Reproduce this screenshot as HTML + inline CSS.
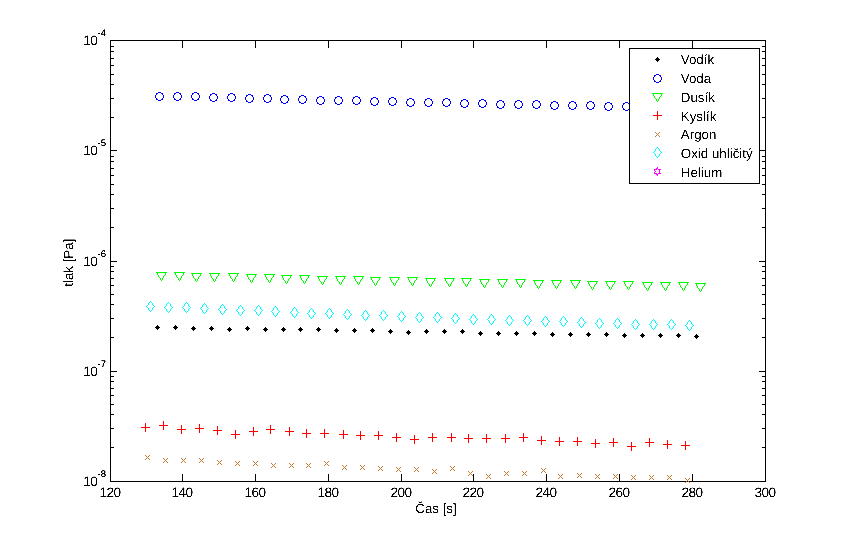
<!DOCTYPE html>
<html lang="cs"><head><meta charset="utf-8"><title>tlak / Čas</title>
<style>html,body{margin:0;padding:0;background:#fff;}svg{display:block;}text{font-family:"Liberation Sans",Arial,Helvetica,sans-serif;fill:#000;text-rendering:geometricPrecision;}.t{font-size:13.33px;}.s{font-size:9.5px;}.n{font-size:13.7px;letter-spacing:-0.6px;}</style></head><body>
<svg width="845" height="541" viewBox="0 0 845 541">
<rect x="0" y="0" width="845" height="541" fill="#fff"/>
<defs>
<g id="mc" shape-rendering="crispEdges" fill="#0000ff"><rect x="-1.5" y="-4.5" width="3" height="1"/><rect x="-1.5" y="3.5" width="3" height="1"/><rect x="-4.5" y="-1.5" width="1" height="3"/><rect x="3.5" y="-1.5" width="1" height="3"/><rect x="-3.5" y="-3.5" width="2" height="1"/><rect x="1.5" y="-3.5" width="2" height="1"/><rect x="-3.5" y="2.5" width="2" height="1"/><rect x="1.5" y="2.5" width="2" height="1"/><rect x="-3.5" y="-2.5" width="1" height="1"/><rect x="2.5" y="-2.5" width="1" height="1"/><rect x="-3.5" y="1.5" width="1" height="1"/><rect x="2.5" y="1.5" width="1" height="1"/></g>
<g id="mt" shape-rendering="crispEdges" fill="#00ff00"><rect x="-5.5" y="-0.5" width="11" height="1"/><rect x="-4.5" y="0.5" width="1" height="1"/><rect x="3.5" y="0.5" width="1" height="1"/><rect x="-4.5" y="1.5" width="1" height="1"/><rect x="3.5" y="1.5" width="1" height="1"/><rect x="-3.5" y="2.5" width="1" height="1"/><rect x="2.5" y="2.5" width="1" height="1"/><rect x="-3.5" y="3.5" width="1" height="1"/><rect x="1.5" y="3.5" width="1" height="1"/><rect x="-2.5" y="4.5" width="1" height="1"/><rect x="1.5" y="4.5" width="1" height="1"/><rect x="-1.5" y="5.5" width="1" height="1"/><rect x="0.5" y="5.5" width="1" height="1"/><rect x="-1.5" y="6.5" width="1" height="1"/><rect x="0.5" y="6.5" width="1" height="1"/><rect x="-0.5" y="7.5" width="1" height="1"/></g>
<g id="md" shape-rendering="crispEdges" fill="#00ffff"><rect x="-0.5" y="-5.5" width="1" height="1"/><rect x="-1.5" y="-4.5" width="1" height="1"/><rect x="0.5" y="-4.5" width="1" height="1"/><rect x="-2.5" y="-3.5" width="1" height="1"/><rect x="1.5" y="-3.5" width="1" height="1"/><rect x="-2.5" y="-2.5" width="1" height="1"/><rect x="1.5" y="-2.5" width="1" height="1"/><rect x="-3.5" y="-1.5" width="1" height="1"/><rect x="2.5" y="-1.5" width="1" height="1"/><rect x="-4.5" y="-0.5" width="1" height="1"/><rect x="3.5" y="-0.5" width="1" height="1"/><rect x="-3.5" y="0.5" width="1" height="1"/><rect x="2.5" y="0.5" width="1" height="1"/><rect x="-2.5" y="1.5" width="1" height="1"/><rect x="1.5" y="1.5" width="1" height="1"/><rect x="-2.5" y="2.5" width="1" height="1"/><rect x="1.5" y="2.5" width="1" height="1"/><rect x="-1.5" y="3.5" width="1" height="1"/><rect x="0.5" y="3.5" width="1" height="1"/><rect x="-0.5" y="4.5" width="1" height="1"/></g>
<g id="mk" shape-rendering="crispEdges" fill="#000"><rect x="-0.5" y="-2.5" width="1" height="5"/><rect x="-1.5" y="-1.5" width="3" height="3"/><rect x="-2.5" y="-0.5" width="5" height="1"/></g>
<g id="mp" shape-rendering="crispEdges" fill="#ff0000"><rect x="-4.5" y="-0.5" width="9" height="1"/><rect x="-0.5" y="-4.5" width="1" height="9"/></g>
<g id="mx" shape-rendering="crispEdges" fill="#c67a2e"><rect x="-2.5" y="-2.5" width="1" height="1"/><rect x="-1.5" y="-1.5" width="1" height="1"/><rect x="-0.5" y="-0.5" width="1" height="1"/><rect x="0.5" y="0.5" width="1" height="1"/><rect x="1.5" y="1.5" width="1" height="1"/><rect x="-2.5" y="1.5" width="1" height="1"/><rect x="-1.5" y="0.5" width="1" height="1"/><rect x="0.5" y="-1.5" width="1" height="1"/><rect x="1.5" y="-2.5" width="1" height="1"/></g>
<g id="mh" shape-rendering="crispEdges" fill="#ff00ff"><rect x="-0.5" y="-4.5" width="1" height="1"/><rect x="-1.5" y="-3.5" width="1" height="1"/><rect x="-0.5" y="-3.5" width="1" height="1"/><rect x="-3.5" y="-2.5" width="1" height="1"/><rect x="-2.5" y="-2.5" width="1" height="1"/><rect x="-1.5" y="-2.5" width="1" height="1"/><rect x="0.5" y="-2.5" width="1" height="1"/><rect x="1.5" y="-2.5" width="1" height="1"/><rect x="2.5" y="-2.5" width="1" height="1"/><rect x="-3.5" y="-1.5" width="1" height="1"/><rect x="1.5" y="-1.5" width="1" height="1"/><rect x="-2.5" y="-0.5" width="1" height="1"/><rect x="1.5" y="-0.5" width="1" height="1"/><rect x="-3.5" y="0.5" width="1" height="1"/><rect x="1.5" y="0.5" width="1" height="1"/><rect x="-3.5" y="1.5" width="1" height="1"/><rect x="-2.5" y="1.5" width="1" height="1"/><rect x="-1.5" y="1.5" width="1" height="1"/><rect x="0.5" y="1.5" width="1" height="1"/><rect x="1.5" y="1.5" width="1" height="1"/><rect x="2.5" y="1.5" width="1" height="1"/><rect x="-1.5" y="2.5" width="1" height="1"/><rect x="-0.5" y="2.5" width="1" height="1"/><rect x="-0.5" y="3.5" width="1" height="1"/></g>
<filter id="th" filterUnits="userSpaceOnUse" x="0" y="0" width="845" height="541" color-interpolation-filters="sRGB"><feComponentTransfer><feFuncA type="table" tableValues="0 0 0 0 0.15 0.5 0.85 1 1 1 1"/></feComponentTransfer></filter>
<filter id="th2" filterUnits="userSpaceOnUse" x="0" y="0" width="845" height="541" color-interpolation-filters="sRGB"><feComponentTransfer><feFuncA type="table" tableValues="0 0 0 0.25 0.6 0.9 1 1 1 1 1"/></feComponentTransfer></filter>
</defs>
<g shape-rendering="crispEdges" stroke="#000" stroke-width="1" fill="none">
<rect x="110.5" y="40.5" width="655.0" height="441.0"/>
<path d="M110.5 481.0v-7 M110.5 41.0v7 M182.5 481.0v-7 M182.5 41.0v7 M255.5 481.0v-7 M255.5 41.0v7 M328.5 481.0v-7 M328.5 41.0v7 M401.5 481.0v-7 M401.5 41.0v7 M473.5 481.0v-7 M473.5 41.0v7 M546.5 481.0v-7 M546.5 41.0v7 M619.5 481.0v-7 M619.5 41.0v7 M692.5 481.0v-7 M692.5 41.0v7 M765.5 481.0v-7 M765.5 41.0v7 M111.0 40.5h6 M765.0 40.5h-6 M111.0 117.5h3 M765.0 117.5h-3 M111.0 98.5h3 M765.0 98.5h-3 M111.0 84.5h3 M765.0 84.5h-3 M111.0 74.5h3 M765.0 74.5h-3 M111.0 65.5h3 M765.0 65.5h-3 M111.0 58.5h3 M765.0 58.5h-3 M111.0 51.5h3 M765.0 51.5h-3 M111.0 46.5h3 M765.0 46.5h-3 M111.0 150.5h6 M765.0 150.5h-6 M111.0 227.5h3 M765.0 227.5h-3 M111.0 208.5h3 M765.0 208.5h-3 M111.0 194.5h3 M765.0 194.5h-3 M111.0 184.5h3 M765.0 184.5h-3 M111.0 175.5h3 M765.0 175.5h-3 M111.0 168.5h3 M765.0 168.5h-3 M111.0 161.5h3 M765.0 161.5h-3 M111.0 156.5h3 M765.0 156.5h-3 M111.0 261.5h6 M765.0 261.5h-6 M111.0 337.5h3 M765.0 337.5h-3 M111.0 318.5h3 M765.0 318.5h-3 M111.0 304.5h3 M765.0 304.5h-3 M111.0 294.5h3 M765.0 294.5h-3 M111.0 285.5h3 M765.0 285.5h-3 M111.0 278.5h3 M765.0 278.5h-3 M111.0 271.5h3 M765.0 271.5h-3 M111.0 266.5h3 M765.0 266.5h-3 M111.0 371.5h6 M765.0 371.5h-6 M111.0 447.5h3 M765.0 447.5h-3 M111.0 428.5h3 M765.0 428.5h-3 M111.0 414.5h3 M765.0 414.5h-3 M111.0 404.5h3 M765.0 404.5h-3 M111.0 395.5h3 M765.0 395.5h-3 M111.0 388.5h3 M765.0 388.5h-3 M111.0 381.5h3 M765.0 381.5h-3 M111.0 376.5h3 M765.0 376.5h-3 M111.0 481.5h6 M765.0 481.5h-6 "/>
</g>
<g><use href="#mk" x="157.5" y="327.5"/><use href="#mk" x="175.5" y="327.5"/><use href="#mk" x="193.5" y="328.5"/><use href="#mk" x="211.5" y="328.5"/><use href="#mk" x="229.5" y="329.5"/><use href="#mk" x="247.5" y="328.5"/><use href="#mk" x="265.5" y="329.5"/><use href="#mk" x="283.5" y="329.5"/><use href="#mk" x="300.5" y="329.5"/><use href="#mk" x="318.5" y="329.5"/><use href="#mk" x="336.5" y="330.5"/><use href="#mk" x="354.5" y="330.5"/><use href="#mk" x="372.5" y="330.5"/><use href="#mk" x="390.5" y="331.5"/><use href="#mk" x="408.5" y="332.5"/><use href="#mk" x="426.5" y="331.5"/><use href="#mk" x="444.5" y="331.5"/><use href="#mk" x="462.5" y="331.5"/><use href="#mk" x="480.5" y="333.5"/><use href="#mk" x="498.5" y="333.5"/><use href="#mk" x="516.5" y="333.5"/><use href="#mk" x="534.5" y="333.5"/><use href="#mk" x="552.5" y="334.5"/><use href="#mk" x="570.5" y="334.5"/><use href="#mk" x="588.5" y="334.5"/><use href="#mk" x="606.5" y="334.5"/><use href="#mk" x="624.5" y="335.5"/><use href="#mk" x="642.5" y="335.5"/><use href="#mk" x="660.5" y="335.5"/><use href="#mk" x="678.5" y="335.5"/><use href="#mk" x="696.5" y="336.5"/></g>
<g><use href="#mc" x="159.5" y="96.5"/><use href="#mc" x="177.5" y="96.5"/><use href="#mc" x="195.5" y="96.5"/><use href="#mc" x="213.5" y="97.5"/><use href="#mc" x="231.5" y="97.5"/><use href="#mc" x="249.5" y="98.5"/><use href="#mc" x="267.5" y="98.5"/><use href="#mc" x="284.5" y="99.5"/><use href="#mc" x="302.5" y="99.5"/><use href="#mc" x="320.5" y="100.5"/><use href="#mc" x="338.5" y="100.5"/><use href="#mc" x="356.5" y="100.5"/><use href="#mc" x="374.5" y="101.5"/><use href="#mc" x="392.5" y="101.5"/><use href="#mc" x="410.5" y="102.5"/><use href="#mc" x="428.5" y="102.5"/><use href="#mc" x="446.5" y="102.5"/><use href="#mc" x="464.5" y="103.5"/><use href="#mc" x="482.5" y="103.5"/><use href="#mc" x="500.5" y="104.5"/><use href="#mc" x="518.5" y="104.5"/><use href="#mc" x="536.5" y="104.5"/><use href="#mc" x="554.5" y="105.5"/><use href="#mc" x="572.5" y="105.5"/><use href="#mc" x="590.5" y="105.5"/><use href="#mc" x="608.5" y="106.5"/><use href="#mc" x="626.5" y="106.5"/></g>
<g><use href="#mt" x="161.5" y="272.5"/><use href="#mt" x="179.5" y="272.5"/><use href="#mt" x="196.5" y="273.5"/><use href="#mt" x="214.5" y="273.5"/><use href="#mt" x="233.5" y="273.5"/><use href="#mt" x="251.5" y="274.5"/><use href="#mt" x="269.5" y="274.5"/><use href="#mt" x="286.5" y="275.5"/><use href="#mt" x="304.5" y="275.5"/><use href="#mt" x="322.5" y="276.5"/><use href="#mt" x="340.5" y="276.5"/><use href="#mt" x="358.5" y="276.5"/><use href="#mt" x="375.5" y="277.5"/><use href="#mt" x="394.5" y="277.5"/><use href="#mt" x="412.5" y="277.5"/><use href="#mt" x="430.5" y="278.5"/><use href="#mt" x="449.5" y="278.5"/><use href="#mt" x="466.5" y="278.5"/><use href="#mt" x="484.5" y="279.5"/><use href="#mt" x="502.5" y="279.5"/><use href="#mt" x="520.5" y="279.5"/><use href="#mt" x="538.5" y="280.5"/><use href="#mt" x="556.5" y="280.5"/><use href="#mt" x="575.5" y="280.5"/><use href="#mt" x="592.5" y="281.5"/><use href="#mt" x="610.5" y="281.5"/><use href="#mt" x="628.5" y="281.5"/><use href="#mt" x="647.5" y="282.5"/><use href="#mt" x="665.5" y="282.5"/><use href="#mt" x="683.5" y="282.5"/><use href="#mt" x="700.5" y="283.5"/></g>
<g><use href="#mp" x="145.5" y="427.5"/><use href="#mp" x="163.5" y="425.5"/><use href="#mp" x="181.5" y="429.5"/><use href="#mp" x="199.5" y="428.5"/><use href="#mp" x="217.5" y="430.5"/><use href="#mp" x="235.5" y="434.5"/><use href="#mp" x="253.5" y="431.5"/><use href="#mp" x="270.5" y="429.5"/><use href="#mp" x="289.5" y="431.5"/><use href="#mp" x="306.5" y="433.5"/><use href="#mp" x="324.5" y="433.5"/><use href="#mp" x="343.5" y="434.5"/><use href="#mp" x="360.5" y="435.5"/><use href="#mp" x="378.5" y="435.5"/><use href="#mp" x="396.5" y="437.5"/><use href="#mp" x="414.5" y="439.5"/><use href="#mp" x="432.5" y="437.5"/><use href="#mp" x="451.5" y="437.5"/><use href="#mp" x="468.5" y="438.5"/><use href="#mp" x="486.5" y="438.5"/><use href="#mp" x="505.5" y="438.5"/><use href="#mp" x="523.5" y="437.5"/><use href="#mp" x="541.5" y="440.5"/><use href="#mp" x="559.5" y="441.5"/><use href="#mp" x="577.5" y="441.5"/><use href="#mp" x="595.5" y="443.5"/><use href="#mp" x="613.5" y="442.5"/><use href="#mp" x="631.5" y="446.5"/><use href="#mp" x="649.5" y="442.5"/><use href="#mp" x="667.5" y="444.5"/><use href="#mp" x="685.5" y="445.5"/></g>
<g><use href="#mx" x="147.5" y="457.5"/><use href="#mx" x="165.5" y="460.5"/><use href="#mx" x="183.5" y="460.5"/><use href="#mx" x="201.5" y="460.5"/><use href="#mx" x="219.5" y="462.5"/><use href="#mx" x="237.5" y="463.5"/><use href="#mx" x="255.5" y="463.5"/><use href="#mx" x="273.5" y="465.5"/><use href="#mx" x="291.5" y="465.5"/><use href="#mx" x="308.5" y="465.5"/><use href="#mx" x="326.5" y="463.5"/><use href="#mx" x="344.5" y="467.5"/><use href="#mx" x="362.5" y="467.5"/><use href="#mx" x="380.5" y="468.5"/><use href="#mx" x="398.5" y="469.5"/><use href="#mx" x="416.5" y="469.5"/><use href="#mx" x="434.5" y="471.5"/><use href="#mx" x="452.5" y="468.5"/><use href="#mx" x="470.5" y="473.5"/><use href="#mx" x="488.5" y="476.5"/><use href="#mx" x="506.5" y="473.5"/><use href="#mx" x="524.5" y="473.5"/><use href="#mx" x="543.5" y="470.5"/><use href="#mx" x="560.5" y="476.5"/><use href="#mx" x="579.5" y="475.5"/><use href="#mx" x="597.5" y="476.5"/><use href="#mx" x="615.5" y="476.5"/><use href="#mx" x="633.5" y="477.5"/><use href="#mx" x="651.5" y="477.5"/><use href="#mx" x="669.5" y="477.5"/><use href="#mx" x="687.5" y="480.5"/></g>
<g><use href="#md" x="150.5" y="306.5"/><use href="#md" x="168.5" y="307.5"/><use href="#md" x="186.5" y="307.5"/><use href="#md" x="204.5" y="308.5"/><use href="#md" x="222.5" y="309.5"/><use href="#md" x="240.5" y="310.5"/><use href="#md" x="258.5" y="310.5"/><use href="#md" x="275.5" y="311.5"/><use href="#md" x="294.5" y="312.5"/><use href="#md" x="311.5" y="313.5"/><use href="#md" x="329.5" y="313.5"/><use href="#md" x="347.5" y="314.5"/><use href="#md" x="365.5" y="315.5"/><use href="#md" x="383.5" y="315.5"/><use href="#md" x="401.5" y="316.5"/><use href="#md" x="419.5" y="317.5"/><use href="#md" x="437.5" y="317.5"/><use href="#md" x="455.5" y="318.5"/><use href="#md" x="473.5" y="319.5"/><use href="#md" x="491.5" y="319.5"/><use href="#md" x="509.5" y="320.5"/><use href="#md" x="527.5" y="320.5"/><use href="#md" x="545.5" y="321.5"/><use href="#md" x="563.5" y="321.5"/><use href="#md" x="581.5" y="322.5"/><use href="#md" x="599.5" y="323.5"/><use href="#md" x="617.5" y="323.5"/><use href="#md" x="635.5" y="324.5"/><use href="#md" x="653.5" y="324.5"/><use href="#md" x="671.5" y="324.5"/><use href="#md" x="689.5" y="325.5"/></g>
<g filter="url(#th)">
<text class="n" x="110.0" y="497" text-anchor="middle">120</text>
<text class="n" x="182.0" y="497" text-anchor="middle">140</text>
<text class="n" x="255.0" y="497" text-anchor="middle">160</text>
<text class="n" x="328.0" y="497" text-anchor="middle">180</text>
<text class="n" x="401.0" y="497" text-anchor="middle">200</text>
<text class="n" x="473.0" y="497" text-anchor="middle">220</text>
<text class="n" x="546.0" y="497" text-anchor="middle">240</text>
<text class="n" x="619.0" y="497" text-anchor="middle">260</text>
<text class="n" x="692.0" y="497" text-anchor="middle">280</text>
<text class="n" x="765.0" y="497" text-anchor="middle">300</text>
<text class="n" x="83.3" y="45.1">10</text>
<text class="n" x="83.3" y="155.3">10</text>
<text class="n" x="83.3" y="265.6">10</text>
<text class="n" x="83.3" y="375.9">10</text>
<text class="n" x="83.3" y="486.1">10</text>
<text class="t" x="436" y="513.3" text-anchor="middle">Čas [s]</text>
<text class="t" transform="translate(73.2 262.7) rotate(-90)" text-anchor="middle">tlak [Pa]</text>
</g>
<g filter="url(#th2)"><text class="s" x="97.6" y="36.1">-4</text><text class="s" x="97.6" y="146.3">-5</text><text class="s" x="97.6" y="256.6">-6</text><text class="s" x="97.6" y="366.9">-7</text><text class="s" x="97.6" y="477.1">-8</text></g>
<rect x="629.5" y="48.5" width="130" height="135" fill="#fff" stroke="#000" stroke-width="1" shape-rendering="crispEdges"/>
<use href="#mk" x="657.5" y="59.5"/>
<text filter="url(#th)" class="t" x="680.8" y="64.4">Vodík</text>
<use href="#mc" x="657.5" y="78.5"/>
<text filter="url(#th)" class="t" x="680.8" y="83.1">Voda</text>
<use href="#mt" x="657.5" y="93.5"/>
<text filter="url(#th)" class="t" x="680.8" y="101.8">Dusík</text>
<use href="#mp" x="657.5" y="115.5"/>
<text filter="url(#th)" class="t" x="680.8" y="120.5">Kyslík</text>
<use href="#mx" x="657.5" y="134.5"/>
<text filter="url(#th)" class="t" x="680.8" y="139.2">Argon</text>
<use href="#md" x="657.5" y="152.5"/>
<text filter="url(#th)" class="t" x="680.8" y="157.9">Oxid uhličitý</text>
<use href="#mh" x="657.5" y="171.5"/>
<text filter="url(#th)" class="t" x="680.8" y="176.6">Helium</text>
</svg></body></html>
